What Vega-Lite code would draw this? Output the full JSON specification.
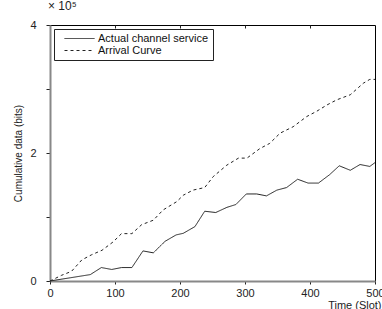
{
  "$schema": "https://vega.github.io/schema/vega-lite/v6.json",
  "width": 325,
  "height": 256,
  "autosize": {"type": "none"},
  "padding": {"left": 50, "top": 25, "right": 7, "bottom": 28},
  "background": "white",
  "config": {
    "font": "Liberation Sans",
    "view": {"stroke": "#000", "strokeWidth": 1},
    "axis": {"grid": false, "labelFont": "Liberation Sans", "titleFont": "Liberation Sans", "labelColor": "#222", "titleColor": "#222", "titleFontWeight": "normal"}
  },
  "title": {"text": "× 10⁵", "anchor": "start", "frame": "group", "fontSize": 12, "fontWeight": "normal", "color": "#222", "offset": 6, "dx": -2},
  "data": {"values": [
    {"t": 0, "v": 0, "s": "Actual channel service"},
    {"t": 31, "v": 5000, "s": "Actual channel service"},
    {"t": 62, "v": 10000, "s": "Actual channel service"},
    {"t": 79, "v": 21000, "s": "Actual channel service"},
    {"t": 95, "v": 18000, "s": "Actual channel service"},
    {"t": 110, "v": 21000, "s": "Actual channel service"},
    {"t": 126, "v": 21000, "s": "Actual channel service"},
    {"t": 143, "v": 47000, "s": "Actual channel service"},
    {"t": 159, "v": 44000, "s": "Actual channel service"},
    {"t": 177, "v": 62000, "s": "Actual channel service"},
    {"t": 194, "v": 72000, "s": "Actual channel service"},
    {"t": 205, "v": 74500, "s": "Actual channel service"},
    {"t": 223, "v": 85000, "s": "Actual channel service"},
    {"t": 238, "v": 109000, "s": "Actual channel service"},
    {"t": 255, "v": 107000, "s": "Actual channel service"},
    {"t": 272, "v": 115000, "s": "Actual channel service"},
    {"t": 286, "v": 119500, "s": "Actual channel service"},
    {"t": 302, "v": 136000, "s": "Actual channel service"},
    {"t": 318, "v": 136000, "s": "Actual channel service"},
    {"t": 333, "v": 133000, "s": "Actual channel service"},
    {"t": 349, "v": 142000, "s": "Actual channel service"},
    {"t": 364, "v": 146000, "s": "Actual channel service"},
    {"t": 381, "v": 159000, "s": "Actual channel service"},
    {"t": 397, "v": 153000, "s": "Actual channel service"},
    {"t": 413, "v": 153000, "s": "Actual channel service"},
    {"t": 430, "v": 166000, "s": "Actual channel service"},
    {"t": 445, "v": 180000, "s": "Actual channel service"},
    {"t": 462, "v": 173000, "s": "Actual channel service"},
    {"t": 477, "v": 182000, "s": "Actual channel service"},
    {"t": 492, "v": 179000, "s": "Actual channel service"},
    {"t": 500, "v": 185000, "s": "Actual channel service"},
    {"t": 0, "v": 0, "s": "Arrival Curve"},
    {"t": 18, "v": 9000, "s": "Arrival Curve"},
    {"t": 33, "v": 15000, "s": "Arrival Curve"},
    {"t": 49, "v": 33000, "s": "Arrival Curve"},
    {"t": 64, "v": 41000, "s": "Arrival Curve"},
    {"t": 80, "v": 48000, "s": "Arrival Curve"},
    {"t": 97, "v": 61000, "s": "Arrival Curve"},
    {"t": 110, "v": 74000, "s": "Arrival Curve"},
    {"t": 126, "v": 74000, "s": "Arrival Curve"},
    {"t": 141, "v": 88000, "s": "Arrival Curve"},
    {"t": 159, "v": 95000, "s": "Arrival Curve"},
    {"t": 174, "v": 111000, "s": "Arrival Curve"},
    {"t": 195, "v": 124000, "s": "Arrival Curve"},
    {"t": 205, "v": 134000, "s": "Arrival Curve"},
    {"t": 220, "v": 142000, "s": "Arrival Curve"},
    {"t": 238, "v": 146000, "s": "Arrival Curve"},
    {"t": 251, "v": 163000, "s": "Arrival Curve"},
    {"t": 272, "v": 181000, "s": "Arrival Curve"},
    {"t": 290, "v": 192000, "s": "Arrival Curve"},
    {"t": 303, "v": 192000, "s": "Arrival Curve"},
    {"t": 323, "v": 207000, "s": "Arrival Curve"},
    {"t": 338, "v": 215000, "s": "Arrival Curve"},
    {"t": 354, "v": 231000, "s": "Arrival Curve"},
    {"t": 374, "v": 241000, "s": "Arrival Curve"},
    {"t": 395, "v": 257000, "s": "Arrival Curve"},
    {"t": 410, "v": 265000, "s": "Arrival Curve"},
    {"t": 426, "v": 275000, "s": "Arrival Curve"},
    {"t": 441, "v": 283000, "s": "Arrival Curve"},
    {"t": 462, "v": 291000, "s": "Arrival Curve"},
    {"t": 482, "v": 309000, "s": "Arrival Curve"},
    {"t": 492, "v": 315000, "s": "Arrival Curve"},
    {"t": 500, "v": 315000, "s": "Arrival Curve"}
  ]},
  "layer": [
    {
      "mark": {"type": "line", "color": "#222", "strokeWidth": 1},
      "encoding": {
        "x": {"field": "t", "type": "quantitative", "scale": {"domain": [0, 500], "nice": false},
          "axis": {"values": [0, 100, 200, 300, 400, 500], "title": "Time (Slot)", "titleAnchor": "end", "titleAlign": "right", "titleX": 331, "titlePadding": 1, "titleFontSize": 11, "labelFontSize": 11, "tickSize": 3, "tickColor": "#222", "domainColor": "#888", "domainWidth": 2, "labelPadding": 3, "labelFlush": false}},
        "y": {"field": "v", "type": "quantitative", "scale": {"domain": [0, 400000], "nice": false},
          "axis": {"values": [0, 100000, 200000, 300000, 400000], "labelExpr": "datum.value % 200000 == 0 ? format(datum.value / 100000, 'd') : ''", "title": "Cumulative data (bits)", "titleFontSize": 10, "titlePadding": 6, "labelFontSize": 11, "tickSize": 4, "tickColor": "#222", "domainColor": "#888", "domainWidth": 2, "labelPadding": 10}},
        "strokeDash": {"field": "s", "type": "nominal",
          "scale": {"domain": ["Actual channel service", "Arrival Curve"], "range": [[1, 0], [3, 3]]},
          "legend": {"title": null, "orient": "top-left", "offset": 4, "symbolType": "M-3,0H3", "symbolSize": 100, "symbolStrokeColor": "#222", "symbolStrokeWidth": 1, "symbolOffset": 16, "labelFontSize": 11, "labelColor": "#111", "strokeColor": "#222", "fillColor": "white", "padding": 4, "rowPadding": 0, "labelOffset": 13, "cornerRadius": 0}}
      }
    },
    {
      "mark": {"type": "point", "opacity": 0},
      "encoding": {
        "x": {"field": "t", "type": "quantitative",
          "axis": {"orient": "top", "values": [100, 200, 300, 400], "labels": false, "domain": false, "title": null, "tickSize": -3, "tickColor": "#222"}}
      }
    }
  ],
  "resolve": {"axis": {"x": "independent"}}
}
